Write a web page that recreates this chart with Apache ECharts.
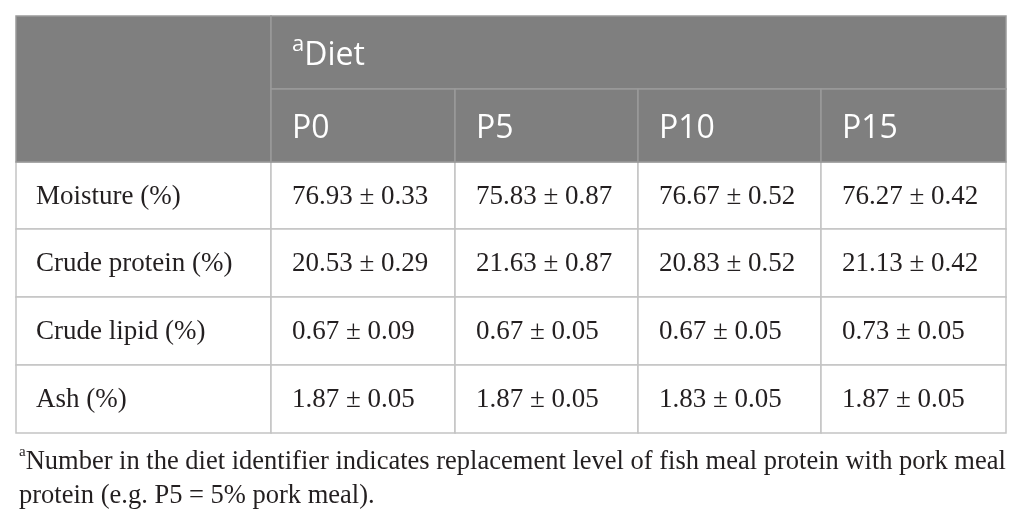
<!DOCTYPE html>
<html>
<head>
<meta charset="utf-8" />
<title></title>
<style type="text/css">
  html, body { margin: 0; padding: 0; width: 100%; height: 100%; background: #fff; }
  #main { width: 1026px; height: 525px; }
</style>
</head>
<body>
<div id="main"></div>
<script src="https://cdn.jsdelivr.net/npm/echarts@6/dist/echarts.min.js"></script>
<script>
  // table content
  var rowLabels = ['Moisture (%)', 'Crude protein (%)', 'Crude lipid (%)', 'Ash (%)'];
  var diets = ['P0', 'P5', 'P10', 'P15'];
  var meanP0 = ['76.93', '20.53', '0.67', '1.87'];
  var sdP0 = ['0.33', '0.29', '0.09', '0.05'];
  var meanP5 = ['75.83', '21.63', '0.67', '1.87'];
  var sdP5 = ['0.87', '0.87', '0.05', '0.05'];
  var meanP10 = ['76.67', '20.83', '0.67', '1.83'];
  var sdP10 = ['0.52', '0.52', '0.05', '0.05'];
  var meanP15 = ['76.27', '21.13', '0.73', '1.87'];
  var sdP15 = ['0.42', '0.42', '0.05', '0.05'];
  var headerTitle = 'Diet';
  var footnote = 'Number in the diet identifier indicates replacement level of fish meal protein with pork meal\nprotein (e.g. P5 = 5% pork meal).';

  // layout (relative sizes of columns / rows)
  var colWidths = [255, 184, 183, 183, 185];
  var rowHeights = [73, 73, 67, 68, 68, 68];

  var means = [meanP0, meanP5, meanP10, meanP15];
  var sds = [sdP0, sdP5, sdP10, sdP15];

  function edges(arr) {
    var e = [0];
    for (var i = 0; i < arr.length; i++) e.push(e[i] + arr[i]);
    return e;
  }
  var colE = edges(colWidths);
  var rowE = edges(rowHeights);

  // cells: [c0, c1, r0, r1, text, kind]
  var cells = [];
  cells.push([0, 1, 0, 2, '', 'head']);
  cells.push([1, 5, 0, 1, '{s|a}{t|' + headerTitle + '}', 'head']);
  for (var d = 0; d < diets.length; d++) {
    cells.push([d + 1, d + 2, 1, 2, diets[d], 'head']);
  }
  for (var r = 0; r < rowLabels.length; r++) {
    cells.push([0, 1, r + 2, r + 3, rowLabels[r], 'body']);
    for (var d = 0; d < diets.length; d++) {
      cells.push([d + 1, d + 2, r + 2, r + 3, means[d][r] + ' \u00b1 ' + sds[d][r], 'body']);
    }
  }

  var myChart = echarts.init(document.getElementById('main'));

  var option = {
    animation: false,
    title: {
      left: 14,
      top: 440,
      text: '{s|a}' + footnote,
      textStyle: {
        fontFamily: 'Liberation Serif',
        fontSize: 26.5,
        fontWeight: 'normal',
        color: '#231f20',
        lineHeight: 34,
        rich: {
          s: { fontSize: 15, verticalAlign: 'top', lineHeight: 34, fontFamily: 'Liberation Serif', color: '#231f20' }
        }
      }
    },
    grid: { left: 16, right: 20, top: 16, bottom: 92 },
    xAxis: { type: 'value', min: 0, max: colE[colE.length - 1], show: false },
    yAxis: { type: 'value', min: 0, max: rowE[rowE.length - 1], inverse: true, show: false },
    series: [{
      type: 'custom',
      data: cells.map(function (c, i) { return [i]; }),
      renderItem: function (params, api) {
        var c = cells[params.dataIndex];
        var p0 = api.coord([colE[c[0]], rowE[c[2]]]);
        var p1 = api.coord([colE[c[1]], rowE[c[3]]]);
        var head = c[5] === 'head';
        return {
          type: 'group',
          children: [{
            type: 'rect',
            shape: { x: p0[0], y: p0[1], width: p1[0] - p0[0], height: p1[1] - p0[1] },
            style: {
              fill: head ? '#7f7f7f' : '#ffffff',
              stroke: head ? '#9b9b9b' : '#c4c4c4',
              lineWidth: 1.5
            },
            z2: head ? 2 : 1
          }, {
            type: 'text',
            z2: 5,
            style: {
              x: p0[0] + (c[0] === 0 ? 20 : 21),
              y: (p0[1] + p1[1]) / 2 + (head ? 3 : 1),
              text: c[4],
              align: 'left',
              verticalAlign: 'middle',
              fill: head ? '#ffffff' : '#231f20',
              fontFamily: head ? 'Open Sans' : 'Liberation Serif',
              fontSize: head ? 32 : 27,
              rich: {
                s: { fontSize: 22, fontFamily: 'Open Sans', fill: '#ffffff', verticalAlign: 'top', lineHeight: 44 },
                t: { fontSize: 32, fontFamily: 'Open Sans', fill: '#ffffff', lineHeight: 44 }
              }
            }
          }]
        };
      }
    }]
  };
  myChart.setOption(option);
</script>
</body>
</html>
